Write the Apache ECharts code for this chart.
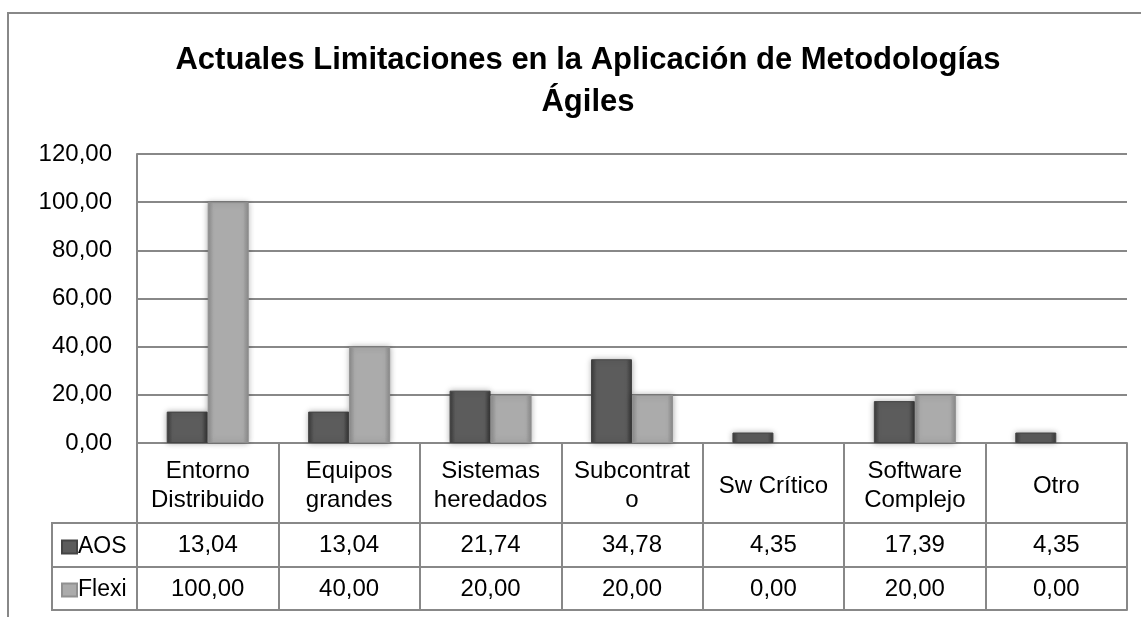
<!DOCTYPE html>
<html>
<head>
<meta charset="utf-8">
<script src="https://cdn.jsdelivr.net/npm/echarts@6/dist/echarts.min.js"></script>
<style>
  html, body { margin: 0; padding: 0; background: #fff; }
  #chart { width: 1141px; height: 617px; }
</style>
</head>
<body>
<div id="chart"></div>
<script>
const categories = ["Entorno\nDistribuido", "Equipos\ngrandes", "Sistemas\nheredados", "Subcontrat\no", "Sw Crítico", "Software\nComplejo", "Otro"];
const aosValues = [13.04, 13.04, 21.74, 34.78, 4.35, 17.39, 4.35];
const flexiValues = [100, 40, 20, 20, 0, 20, 0];
const seriesNames = ["AOS", "Flexi"];

const fmt = (v) => Number(v).toFixed(2).replace(".", ",");
const font = "Liberation Sans";
const lineGray = "#888888";

function bevel(edge, mid) {
  return new echarts.graphic.LinearGradient(0, 0, 1, 0, [
    { offset: 0, color: edge },
    { offset: 0.14, color: mid },
    { offset: 0.86, color: mid },
    { offset: 1, color: edge },
  ]);
}

// zero-height bars get no halo
const withHalo = (arr) =>
  arr.map((v) => (v === 0 ? { value: v, itemStyle: { shadowBlur: 0, borderWidth: 0 } } : v));

const option = {
  animation: false,
  textStyle: { fontFamily: font },
  title: {
    text: "Actuales Limitaciones en la Aplicación de Metodologías\nÁgiles",
    left: 583,
    textAlign: "center",
    top: 34,
    textStyle: { fontFamily: font, fontSize: 31, fontWeight: "bold", color: "#000", lineHeight: 42 },
  },
  legend: {
    orient: "vertical",
    left: 56,
    top: 530,
    itemGap: 19,
    itemWidth: 15,
    itemHeight: 13,
    icon: "rect",
    textStyle: { fontSize: 23, color: "#000", lineHeight: 24, padding: [0, 0, 0, -4] },
    data: seriesNames,
  },
  grid: { left: 137, right: 14, top: 154, bottom: 174 },
  yAxis: {
    type: "value",
    min: 0,
    max: 120,
    interval: 20,
    axisLine: { show: true, lineStyle: { color: lineGray, width: 2 } },
    axisTick: { show: false },
    axisLabel: { formatter: fmt, fontSize: 24, color: "#000", margin: 25 },
    splitLine: { lineStyle: { color: lineGray, width: 2 } },
  },
  xAxis: [
    {
      type: "category",
      data: categories,
      position: "bottom",
      axisLine: { lineStyle: { color: lineGray, width: 2 } },
      axisTick: { show: true, interval: 0, length: 167, lineStyle: { color: lineGray, width: 2 } },
      axisLabel: { interval: 0, fontSize: 24, color: "#000", margin: 43, verticalAlign: "middle", lineHeight: 29 },
    },
    {
      type: "category",
      data: aosValues.map(fmt),
      position: "bottom",
      offset: 80,
      axisLine: { lineStyle: { color: lineGray, width: 2 } },
      axisTick: { show: false },
      axisLabel: { interval: 0, fontSize: 24, color: "#000", margin: 22, verticalAlign: "middle" },
    },
    {
      type: "category",
      data: flexiValues.map(fmt),
      position: "bottom",
      offset: 124,
      axisLine: { lineStyle: { color: lineGray, width: 2 } },
      axisTick: { show: false },
      axisLabel: { interval: 0, fontSize: 24, color: "#000", margin: 22, verticalAlign: "middle" },
    },
    {
      type: "category",
      data: categories,
      position: "bottom",
      offset: 167,
      axisLine: { lineStyle: { color: lineGray, width: 2 } },
      axisTick: { show: false },
      axisLabel: { show: false },
    },
  ],
  series: [
    {
      name: seriesNames[0],
      type: "bar",
      data: withHalo(aosValues),
      barWidth: 41,
      barGap: "0%",
      itemStyle: {
        color: bevel("#3a3a3a", "#5c5c5c"),
        borderColor: "#444",
        borderWidth: 1,
        shadowColor: "rgba(0,0,0,0.3)",
        shadowBlur: 6,
      },
    },
    {
      name: seriesNames[1],
      type: "bar",
      data: withHalo(flexiValues),
      barWidth: 41,
      barGap: "0%",
      itemStyle: {
        color: bevel("#8c8c8c", "#ababab"),
        borderColor: "#909090",
        borderWidth: 1,
        shadowColor: "rgba(0,0,0,0.3)",
        shadowBlur: 6,
      },
    },
  ],
  graphic: [
    {
      type: "rect",
      silent: true,
      shape: { x: 8, y: 13, width: 1200, height: 700 },
      style: { fill: "none", stroke: lineGray, lineWidth: 2 },
    },
    {
      type: "rect",
      silent: true,
      shape: { x: 52, y: 523, width: 85, height: 87 },
      style: { fill: "none", stroke: lineGray, lineWidth: 2 },
    },
    {
      type: "line",
      silent: true,
      shape: { x1: 52, y1: 567, x2: 137, y2: 567 },
      style: { stroke: lineGray, lineWidth: 2 },
    },
  ],
};

const myChart = echarts.init(document.getElementById("chart"));
myChart.setOption(option);
window.addEventListener("resize", () => {
  myChart.resize();
});
</script>
</body>
</html>
